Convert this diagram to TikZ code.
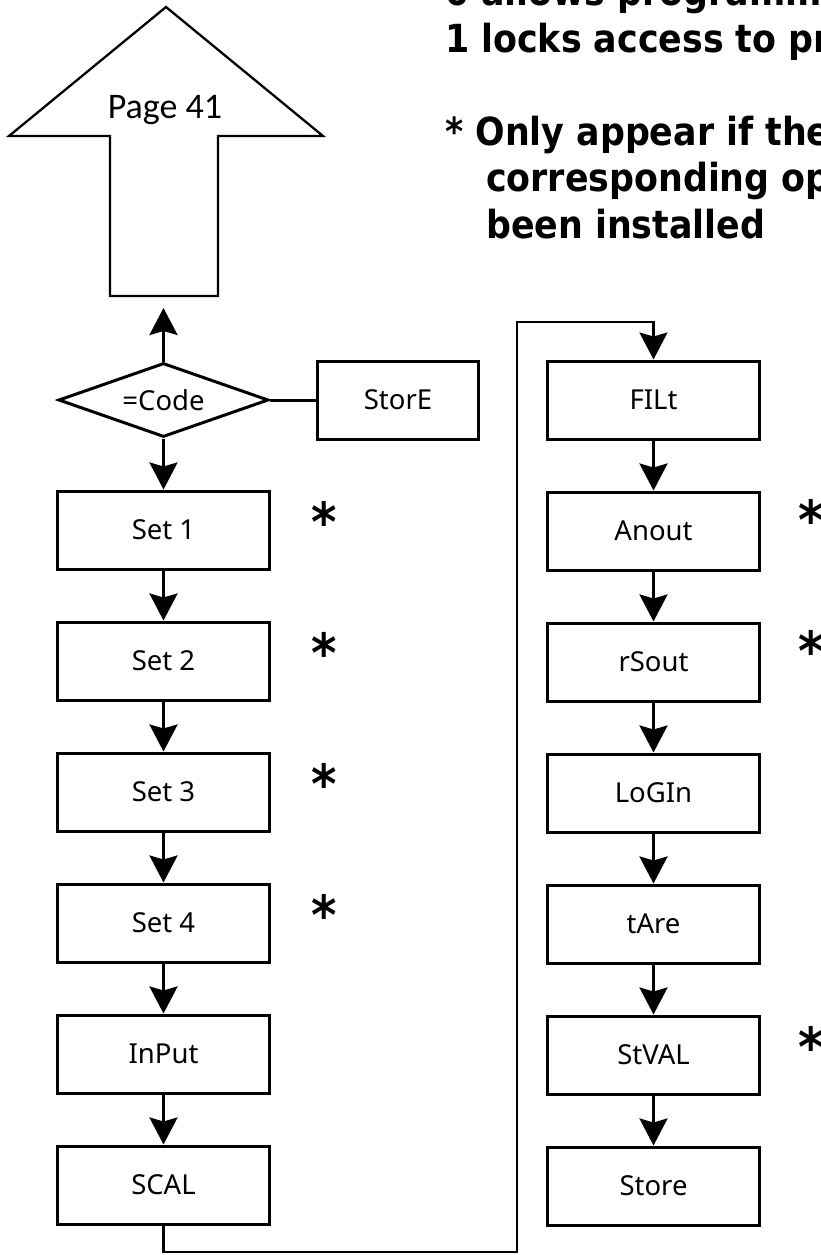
\documentclass[tikz,border=0pt]{standalone}
\usepackage{fontspec}
\usepackage{tikz}
\usetikzlibrary{arrows.meta,positioning,shapes.geometric}
\newfontfamily\boxfont{Noto Sans}
\newfontfamily\pagefont{Carlito}
\newfontfamily\notefont{DejaVu Sans Condensed Bold}

\begin{document}
\begin{tikzpicture}[
  x=1pt, y=-1pt,
  node distance=50pt and 46pt,
  box/.style={draw, line width=3pt, minimum width=212pt, minimum height=78pt, inner sep=0pt, font=\boxfont\fontsize{27.5}{30}\selectfont},
  decide/.style={draw, diamond, line width=3pt, minimum width=210pt, minimum height=74pt, inner sep=0pt, aspect=2.8, font=\boxfont\fontsize{27.5}{30}\selectfont},
  star/.style={font=\notefont\fontsize{54}{54}\selectfont, inner sep=0pt},
  note/.style={font=\notefont\fontsize{38.7}{46.5}\selectfont, align=left, inner sep=0pt},
  arr/.style={-{Stealth[length=27pt,width=28pt,inset=4pt]}, line width=3pt}
]
  \useasboundingbox (0,0) rectangle (821,1255);
  \clip (0,0) rectangle (821,1255);

  % exit arrow
  \draw[line width=2.3pt, line join=miter] (110,296) -- (110,136) -- (9,136) -- (166,7) -- (323,136) -- (218,136) -- (218,296) -- cycle;
  \node[font=\pagefont\fontsize{36}{40}\selectfont] (page) at (165,110) {Page 41};
  \coordinate (pagefoot) at (163.5,308);

  \node[note, anchor=base west] (legend) at (445,238) {0 allows programming\\1 locks access to programming\\[46.5pt]* Only appear if the\\\hspace*{41pt}corresponding option\\\hspace*{41pt}been installed};

  % left column
  \node[decide] (code) at (163.5,400) {=Code};
  \node[box, minimum width=161pt, right=of code] (store) {StorE};
  \node[box, below=51pt of code] (set1) {Set 1};
  \node[box, below=of set1] (set2) {Set 2};
  \node[box, below=of set2] (set3) {Set 3};
  \node[box, below=of set3] (set4) {Set 4};
  \node[box, below=of set4] (input) {InPut};
  \node[box, below=of input] (scal) {SCAL};

  % right column
  \node[box, right=66pt of store] (filt) {FILt};
  \node[box, below=of filt] (anout) {Anout};
  \node[box, below=of anout] (rsout) {rSout};
  \node[box, below=of rsout] (login) {LoGIn};
  \node[box, below=of login] (tare) {tAre};
  \node[box, below=of tare] (stval) {StVAL};
  \node[box, below=of stval] (store2) {Store};

  % options
  \node[star] (st1) at ([xshift=53pt,yshift=9pt]set1.east) {*};
  \node[star] (st2) at ([xshift=53pt,yshift=9pt]set2.east) {*};
  \node[star] (st3) at ([xshift=53pt,yshift=9pt]set3.east) {*};
  \node[star] (st4) at ([xshift=53pt,yshift=9pt]set4.east) {*};
  \node[star] (st5) at ([xshift=50pt,yshift=12pt]anout.east) {*};
  \node[star] (st6) at ([xshift=50pt,yshift=12pt]rsout.east) {*};
  \node[star] (st7) at ([xshift=50pt,yshift=9pt]stval.east) {*};

  \coordinate (turnlo) at (517,1252);
  \coordinate (turnhi) at (517,322);

  \draw[arr] (code) -- (pagefoot);
  \draw[line width=3pt] (code) -- (store);
  \draw[arr] (code) -- (set1);
  \draw[arr] (set1) -- (set2);
  \draw[arr] (set2) -- (set3);
  \draw[arr] (set3) -- (set4);
  \draw[arr] (set4) -- (input);
  \draw[arr] (input) -- (scal);
  \draw[arr, line width=2.5pt] (scal.south) |- (turnlo) -- (turnhi) -| (filt.north);
  \draw[arr] (filt) -- (anout);
  \draw[arr] (anout) -- (rsout);
  \draw[arr] (rsout) -- (login);
  \draw[arr] (login) -- (tare);
  \draw[arr] (tare) -- (stval);
  \draw[arr] (stval) -- (store2);
\end{tikzpicture}
\end{document}
